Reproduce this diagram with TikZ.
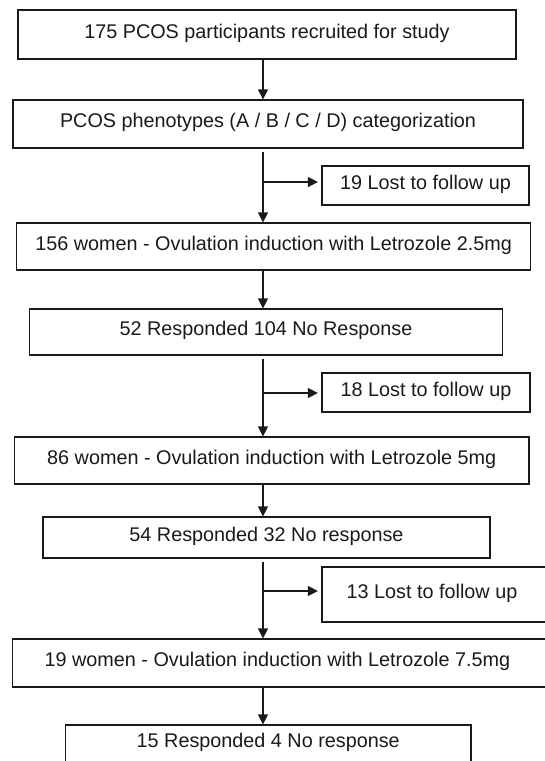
\documentclass[tikz,border=0pt]{standalone}
\usepackage{fontspec}
\setmainfont{Liberation Sans}
\usetikzlibrary{arrows.meta}
\definecolor{ink}{HTML}{1A1A1A}
\begin{document}
\begin{tikzpicture}[x=1pt,y=-1pt,
  box/.style={draw=ink, line width=1.2pt, rectangle, inner sep=0pt, text=ink,
    font=\fontsize{19.8}{23}\selectfont, text height=0.72em, text depth=0pt},
  arr/.style={draw=ink, line width=1.2pt, -{Triangle[length=10pt,width=10pt]}}]
\useasboundingbox (0,0) rectangle (545,761);
\clip (0,0) rectangle (545,761);
\fill[white] (0,0) rectangle (545,761);
\coordinate (tx) at (263,0);
\node[box, minimum width=498, minimum height=49] (b1) at (267,34.5) {175 PCOS participants recruited for study};
\node[box, minimum width=510, minimum height=48] (b2) at (268,124) {PCOS phenotypes (A / B / C / D) categorization};
\node[box, minimum width=207, minimum height=39] (l1) at (425.5,185.5) {19 Lost to follow up};
\node[box, minimum width=514, minimum height=47] (b3) at (273.6,246.5) {156 women - Ovulation induction with Letrozole 2.5mg};
\node[box, minimum width=473.4, minimum height=46] (b4) at (266,332) {52 Responded 104 No Response};
\node[box, minimum width=208, minimum height=39] (l2) at (426,392.5) {18 Lost to follow up};
\node[box, minimum width=514.5, minimum height=47] (b5) at (271.75,460.5) {86 women - Ovulation induction with Letrozole 5mg};
\node[box, minimum width=447, minimum height=41] (b6) at (266.5,537.5) {54 Responded 32 No response};
\node[box, minimum width=238, minimum height=55] (l3) at (441,594.5) {\hspace*{-18pt}13 Lost to follow up};
\node[box, minimum width=547.2, minimum height=48] (b7) at (286.4,663) {\hspace*{-18pt}19 women - Ovulation induction with Letrozole 7.5mg};
\node[box, minimum width=405.5, minimum height=38] (b8) at (268.25,744) {15 Responded 4 No response};
\coordinate (br1) at (263,182);
\coordinate (br2) at (263,393);
\coordinate (br3) at (263,591);
\draw[arr] (b1.south -| tx) -- (b2.north -| tx);
\draw[arr, shorten <=3pt] (b2.south -| tx) -- (b3.north -| tx);
\draw[arr, shorten <=1pt, shorten >=3.5pt] (br1) -- (l1.west |- br1);
\draw[arr] (b3.south -| tx) -- (b4.north -| tx);
\draw[arr, shorten <=3pt] (b4.south -| tx) -- (b5.north -| tx);
\draw[arr, shorten <=1pt, shorten >=3.5pt] (br2) -- (l2.west |- br2);
\draw[arr] (b5.south -| tx) -- (b6.north -| tx);
\draw[arr, shorten <=3pt] (b6.south -| tx) -- (b7.north -| tx);
\draw[arr, shorten <=1pt, shorten >=3.5pt] (br3) -- (l3.west |- br3);
\draw[arr] (b7.south -| tx) -- (b8.north -| tx);
\end{tikzpicture}
\end{document}
